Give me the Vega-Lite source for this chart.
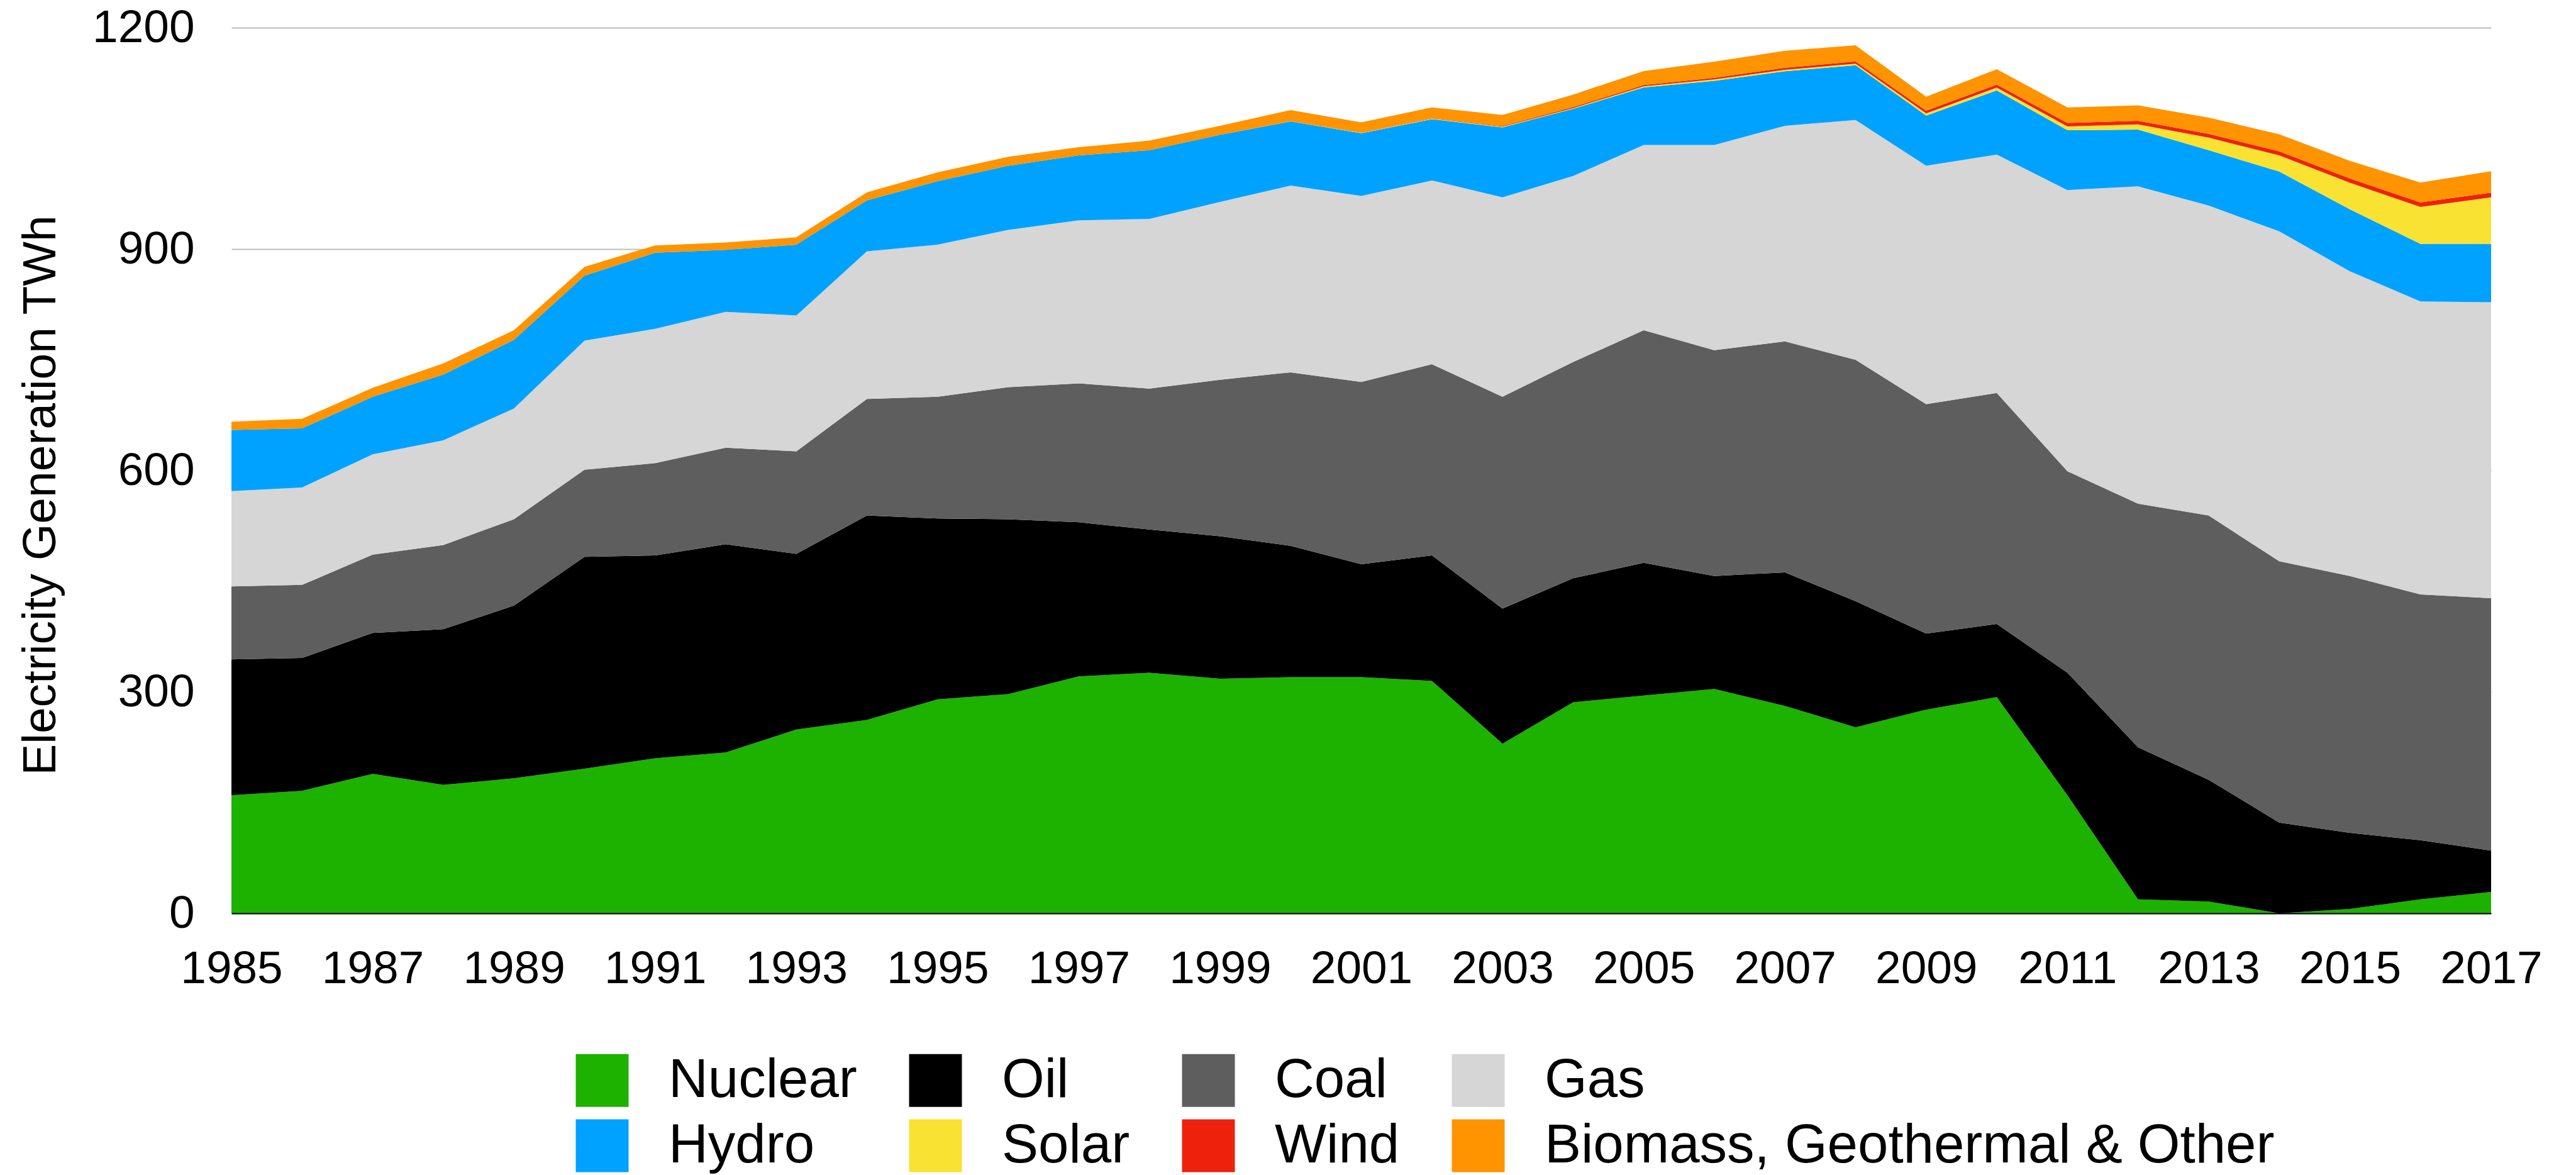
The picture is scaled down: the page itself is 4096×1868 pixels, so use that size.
{
  "$schema": "https://vega.github.io/schema/vega-lite/v6.json",
  "autosize": {"type": "none"},
  "padding": {"left": 368, "top": 44, "right": 135, "bottom": 416},
  "width": 3593,
  "height": 1408,
  "background": "white",
  "config": {
    "font": "Liberation Sans",
    "view": {"stroke": null}
  },
  "datasets": {
    "gen": [
      {"year":1985,"source":"Nuclear","twh":160},{"year":1985,"source":"Oil","twh":184},{"year":1985,"source":"Coal","twh":99},{"year":1985,"source":"Gas","twh":129},{"year":1985,"source":"Hydro","twh":83},{"year":1985,"source":"Solar","twh":0},{"year":1985,"source":"Wind","twh":0},{"year":1985,"source":"Biomass, Geothermal & Other","twh":11},
      {"year":1986,"source":"Nuclear","twh":166},{"year":1986,"source":"Oil","twh":180},{"year":1986,"source":"Coal","twh":99},{"year":1986,"source":"Gas","twh":132},{"year":1986,"source":"Hydro","twh":80},{"year":1986,"source":"Solar","twh":0},{"year":1986,"source":"Wind","twh":0},{"year":1986,"source":"Biomass, Geothermal & Other","twh":13},
      {"year":1987,"source":"Nuclear","twh":189},{"year":1987,"source":"Oil","twh":191},{"year":1987,"source":"Coal","twh":106},{"year":1987,"source":"Gas","twh":136},{"year":1987,"source":"Hydro","twh":78},{"year":1987,"source":"Solar","twh":0},{"year":1987,"source":"Wind","twh":0},{"year":1987,"source":"Biomass, Geothermal & Other","twh":12},
      {"year":1988,"source":"Nuclear","twh":174},{"year":1988,"source":"Oil","twh":211},{"year":1988,"source":"Coal","twh":114},{"year":1988,"source":"Gas","twh":142},{"year":1988,"source":"Hydro","twh":89},{"year":1988,"source":"Solar","twh":0},{"year":1988,"source":"Wind","twh":0},{"year":1988,"source":"Biomass, Geothermal & Other","twh":15},
      {"year":1989,"source":"Nuclear","twh":183},{"year":1989,"source":"Oil","twh":234},{"year":1989,"source":"Coal","twh":117},{"year":1989,"source":"Gas","twh":150},{"year":1989,"source":"Hydro","twh":93},{"year":1989,"source":"Solar","twh":0},{"year":1989,"source":"Wind","twh":0},{"year":1989,"source":"Biomass, Geothermal & Other","twh":13},
      {"year":1990,"source":"Nuclear","twh":196},{"year":1990,"source":"Oil","twh":287},{"year":1990,"source":"Coal","twh":118},{"year":1990,"source":"Gas","twh":175},{"year":1990,"source":"Hydro","twh":88},{"year":1990,"source":"Solar","twh":0},{"year":1990,"source":"Wind","twh":0},{"year":1990,"source":"Biomass, Geothermal & Other","twh":12},
      {"year":1991,"source":"Nuclear","twh":210},{"year":1991,"source":"Oil","twh":275},{"year":1991,"source":"Coal","twh":125},{"year":1991,"source":"Gas","twh":182},{"year":1991,"source":"Hydro","twh":103},{"year":1991,"source":"Solar","twh":0},{"year":1991,"source":"Wind","twh":0},{"year":1991,"source":"Biomass, Geothermal & Other","twh":10},
      {"year":1992,"source":"Nuclear","twh":218},{"year":1992,"source":"Oil","twh":282},{"year":1992,"source":"Coal","twh":131},{"year":1992,"source":"Gas","twh":184},{"year":1992,"source":"Hydro","twh":84},{"year":1992,"source":"Solar","twh":0},{"year":1992,"source":"Wind","twh":0},{"year":1992,"source":"Biomass, Geothermal & Other","twh":10},
      {"year":1993,"source":"Nuclear","twh":249},{"year":1993,"source":"Oil","twh":238},{"year":1993,"source":"Coal","twh":139},{"year":1993,"source":"Gas","twh":184},{"year":1993,"source":"Hydro","twh":96},{"year":1993,"source":"Solar","twh":0},{"year":1993,"source":"Wind","twh":0},{"year":1993,"source":"Biomass, Geothermal & Other","twh":10},
      {"year":1994,"source":"Nuclear","twh":262},{"year":1994,"source":"Oil","twh":277},{"year":1994,"source":"Coal","twh":158},{"year":1994,"source":"Gas","twh":200},{"year":1994,"source":"Hydro","twh":69},{"year":1994,"source":"Solar","twh":0},{"year":1994,"source":"Wind","twh":0},{"year":1994,"source":"Biomass, Geothermal & Other","twh":11},
      {"year":1995,"source":"Nuclear","twh":290},{"year":1995,"source":"Oil","twh":245},{"year":1995,"source":"Coal","twh":165},{"year":1995,"source":"Gas","twh":206},{"year":1995,"source":"Hydro","twh":86},{"year":1995,"source":"Solar","twh":0},{"year":1995,"source":"Wind","twh":0},{"year":1995,"source":"Biomass, Geothermal & Other","twh":12},
      {"year":1996,"source":"Nuclear","twh":297},{"year":1996,"source":"Oil","twh":237},{"year":1996,"source":"Coal","twh":179},{"year":1996,"source":"Gas","twh":213},{"year":1996,"source":"Hydro","twh":87},{"year":1996,"source":"Solar","twh":0},{"year":1996,"source":"Wind","twh":0},{"year":1996,"source":"Biomass, Geothermal & Other","twh":12},
      {"year":1997,"source":"Nuclear","twh":321},{"year":1997,"source":"Oil","twh":209},{"year":1997,"source":"Coal","twh":188},{"year":1997,"source":"Gas","twh":221},{"year":1997,"source":"Hydro","twh":88},{"year":1997,"source":"Solar","twh":0},{"year":1997,"source":"Wind","twh":0},{"year":1997,"source":"Biomass, Geothermal & Other","twh":11},
      {"year":1998,"source":"Nuclear","twh":326},{"year":1998,"source":"Oil","twh":194},{"year":1998,"source":"Coal","twh":191},{"year":1998,"source":"Gas","twh":230},{"year":1998,"source":"Hydro","twh":93},{"year":1998,"source":"Solar","twh":0},{"year":1998,"source":"Wind","twh":0},{"year":1998,"source":"Biomass, Geothermal & Other","twh":13},
      {"year":1999,"source":"Nuclear","twh":318},{"year":1999,"source":"Oil","twh":193},{"year":1999,"source":"Coal","twh":212},{"year":1999,"source":"Gas","twh":241},{"year":1999,"source":"Hydro","twh":91},{"year":1999,"source":"Solar","twh":0},{"year":1999,"source":"Wind","twh":0},{"year":1999,"source":"Biomass, Geothermal & Other","twh":12},
      {"year":2000,"source":"Nuclear","twh":320},{"year":2000,"source":"Oil","twh":178},{"year":2000,"source":"Coal","twh":235},{"year":2000,"source":"Gas","twh":253},{"year":2000,"source":"Hydro","twh":87},{"year":2000,"source":"Solar","twh":0.3},{"year":2000,"source":"Wind","twh":0.1},{"year":2000,"source":"Biomass, Geothermal & Other","twh":15},
      {"year":2001,"source":"Nuclear","twh":320},{"year":2001,"source":"Oil","twh":153},{"year":2001,"source":"Coal","twh":247},{"year":2001,"source":"Gas","twh":252},{"year":2001,"source":"Hydro","twh":85},{"year":2001,"source":"Solar","twh":0.4},{"year":2001,"source":"Wind","twh":0.3},{"year":2001,"source":"Biomass, Geothermal & Other","twh":14},
      {"year":2002,"source":"Nuclear","twh":315},{"year":2002,"source":"Oil","twh":170},{"year":2002,"source":"Coal","twh":259},{"year":2002,"source":"Gas","twh":249},{"year":2002,"source":"Hydro","twh":83},{"year":2002,"source":"Solar","twh":0.6},{"year":2002,"source":"Wind","twh":0.4},{"year":2002,"source":"Biomass, Geothermal & Other","twh":15},
      {"year":2003,"source":"Nuclear","twh":230},{"year":2003,"source":"Oil","twh":183},{"year":2003,"source":"Coal","twh":287},{"year":2003,"source":"Gas","twh":270},{"year":2003,"source":"Hydro","twh":95},{"year":2003,"source":"Solar","twh":0.8},{"year":2003,"source":"Wind","twh":0.9},{"year":2003,"source":"Biomass, Geothermal & Other","twh":15},
      {"year":2004,"source":"Nuclear","twh":286},{"year":2004,"source":"Oil","twh":168},{"year":2004,"source":"Coal","twh":293},{"year":2004,"source":"Gas","twh":252},{"year":2004,"source":"Hydro","twh":91},{"year":2004,"source":"Solar","twh":1.0},{"year":2004,"source":"Wind","twh":1.3},{"year":2004,"source":"Biomass, Geothermal & Other","twh":17},
      {"year":2005,"source":"Nuclear","twh":295},{"year":2005,"source":"Oil","twh":180},{"year":2005,"source":"Coal","twh":315},{"year":2005,"source":"Gas","twh":251},{"year":2005,"source":"Hydro","twh":78},{"year":2005,"source":"Solar","twh":1.5},{"year":2005,"source":"Wind","twh":1.8},{"year":2005,"source":"Biomass, Geothermal & Other","twh":19},
      {"year":2006,"source":"Nuclear","twh":304},{"year":2006,"source":"Oil","twh":153},{"year":2006,"source":"Coal","twh":306},{"year":2006,"source":"Gas","twh":278},{"year":2006,"source":"Hydro","twh":87},{"year":2006,"source":"Solar","twh":1.8},{"year":2006,"source":"Wind","twh":2.2},{"year":2006,"source":"Biomass, Geothermal & Other","twh":22},
      {"year":2007,"source":"Nuclear","twh":281},{"year":2007,"source":"Oil","twh":181},{"year":2007,"source":"Coal","twh":313},{"year":2007,"source":"Gas","twh":292},{"year":2007,"source":"Hydro","twh":74},{"year":2007,"source":"Solar","twh":2.0},{"year":2007,"source":"Wind","twh":2.6},{"year":2007,"source":"Biomass, Geothermal & Other","twh":23},
      {"year":2008,"source":"Nuclear","twh":252},{"year":2008,"source":"Oil","twh":171},{"year":2008,"source":"Coal","twh":327},{"year":2008,"source":"Gas","twh":325},{"year":2008,"source":"Hydro","twh":74},{"year":2008,"source":"Solar","twh":2.3},{"year":2008,"source":"Wind","twh":2.9},{"year":2008,"source":"Biomass, Geothermal & Other","twh":22},
      {"year":2009,"source":"Nuclear","twh":276},{"year":2009,"source":"Oil","twh":103},{"year":2009,"source":"Coal","twh":311},{"year":2009,"source":"Gas","twh":323},{"year":2009,"source":"Hydro","twh":68},{"year":2009,"source":"Solar","twh":2.8},{"year":2009,"source":"Wind","twh":3.6},{"year":2009,"source":"Biomass, Geothermal & Other","twh":19},
      {"year":2010,"source":"Nuclear","twh":293},{"year":2010,"source":"Oil","twh":99},{"year":2010,"source":"Coal","twh":313},{"year":2010,"source":"Gas","twh":323},{"year":2010,"source":"Hydro","twh":87},{"year":2010,"source":"Solar","twh":3.8},{"year":2010,"source":"Wind","twh":4.0},{"year":2010,"source":"Biomass, Geothermal & Other","twh":21},
      {"year":2011,"source":"Nuclear","twh":160},{"year":2011,"source":"Oil","twh":166},{"year":2011,"source":"Coal","twh":273},{"year":2011,"source":"Gas","twh":381},{"year":2011,"source":"Hydro","twh":81},{"year":2011,"source":"Solar","twh":5.2},{"year":2011,"source":"Wind","twh":4.7},{"year":2011,"source":"Biomass, Geothermal & Other","twh":21},
      {"year":2012,"source":"Nuclear","twh":19},{"year":2012,"source":"Oil","twh":206},{"year":2012,"source":"Coal","twh":330},{"year":2012,"source":"Gas","twh":430},{"year":2012,"source":"Hydro","twh":77},{"year":2012,"source":"Solar","twh":7},{"year":2012,"source":"Wind","twh":4.8},{"year":2012,"source":"Biomass, Geothermal & Other","twh":21},
      {"year":2013,"source":"Nuclear","twh":16},{"year":2013,"source":"Oil","twh":165},{"year":2013,"source":"Coal","twh":358},{"year":2013,"source":"Gas","twh":420},{"year":2013,"source":"Hydro","twh":75},{"year":2013,"source":"Solar","twh":17},{"year":2013,"source":"Wind","twh":5.2},{"year":2013,"source":"Biomass, Geothermal & Other","twh":22},
      {"year":2014,"source":"Nuclear","twh":0},{"year":2014,"source":"Oil","twh":123},{"year":2014,"source":"Coal","twh":354},{"year":2014,"source":"Gas","twh":447},{"year":2014,"source":"Hydro","twh":81},{"year":2014,"source":"Solar","twh":22},{"year":2014,"source":"Wind","twh":5.5},{"year":2014,"source":"Biomass, Geothermal & Other","twh":23},
      {"year":2015,"source":"Nuclear","twh":6},{"year":2015,"source":"Oil","twh":103},{"year":2015,"source":"Coal","twh":348},{"year":2015,"source":"Gas","twh":413},{"year":2015,"source":"Hydro","twh":84},{"year":2015,"source":"Solar","twh":36},{"year":2015,"source":"Wind","twh":5.6},{"year":2015,"source":"Biomass, Geothermal & Other","twh":24},
      {"year":2016,"source":"Nuclear","twh":19},{"year":2016,"source":"Oil","twh":80},{"year":2016,"source":"Coal","twh":333},{"year":2016,"source":"Gas","twh":397},{"year":2016,"source":"Hydro","twh":78},{"year":2016,"source":"Solar","twh":50},{"year":2016,"source":"Wind","twh":6.2},{"year":2016,"source":"Biomass, Geothermal & Other","twh":27},
      {"year":2017,"source":"Nuclear","twh":29},{"year":2017,"source":"Oil","twh":56},{"year":2017,"source":"Coal","twh":342},{"year":2017,"source":"Gas","twh":401},{"year":2017,"source":"Hydro","twh":79},{"year":2017,"source":"Solar","twh":63},{"year":2017,"source":"Wind","twh":6.5},{"year":2017,"source":"Biomass, Geothermal & Other","twh":29}
    ]
  },
  "data": {"name": "gen"},
  "transform": [
    {"calculate": "indexof(['Nuclear','Oil','Coal','Gas','Hydro','Solar','Wind','Biomass, Geothermal & Other'], datum.source)", "as": "stackRank"}
  ],
  "mark": {"type": "area", "interpolate": "linear", "strokeWidth": 0},
  "encoding": {
    "x": {
      "field": "year",
      "type": "quantitative",
      "scale": {"domain": [1985, 2017], "nice": false, "zero": false},
      "axis": {
        "title": null,
        "values": [1985,1987,1989,1991,1993,1995,1997,1999,2001,2003,2005,2007,2009,2011,2013,2015,2017],
        "format": "d",
        "grid": false,
        "ticks": false,
        "tickSize": 0,
        "domain": true,
        "domainColor": "#000000",
        "domainWidth": 2,
        "labelFont": "Liberation Sans",
        "labelFontSize": 73,
        "labelColor": "#000000",
        "labelPadding": 52,
        "labelFlush": false,
        "labelOverlap": false,
        "zindex": 1
      }
    },
    "y": {
      "field": "twh",
      "type": "quantitative",
      "stack": "zero",
      "scale": {"domain": [0, 1200], "nice": false},
      "axis": {
        "title": "Electricity Generation TWh",
        "values": [0, 300, 600, 900, 1200],
        "format": "d",
        "grid": true,
        "gridColor": "#bdbdbd",
        "gridWidth": 2,
        "ticks": false,
        "tickSize": 0,
        "domain": false,
        "labelFont": "Liberation Sans",
        "labelFontSize": 73,
        "labelColor": "#000000",
        "labelPadding": 59,
        "labelFlush": false,
        "labelOverlap": false,
        "titleFont": "Liberation Sans",
        "titleFontSize": 75,
        "titleFontWeight": "normal",
        "titleColor": "#000000",
        "titleAngle": 270,
        "titleAlign": "center",
        "titleBaseline": "alphabetic",
        "titleX": -281,
        "titleY": 743
      }
    },
    "order": {"field": "stackRank", "type": "quantitative", "sort": "ascending"},
    "color": {
      "field": "source",
      "type": "nominal",
      "sort": ["Nuclear", "Oil", "Coal", "Gas", "Hydro", "Solar", "Wind", "Biomass, Geothermal & Other"],
      "scale": {
        "domain": ["Nuclear", "Oil", "Coal", "Gas", "Hydro", "Solar", "Wind", "Biomass, Geothermal & Other"],
        "range": ["#1db100", "#000000", "#5e5e5e", "#d6d6d6", "#00a2ff", "#f9e231", "#ee220c", "#ff9300"]
      },
      "legend": {
        "title": null,
        "orient": "none",
        "legendX": 546,
        "legendY": 1630,
        "direction": "horizontal",
        "columns": 4,
        "padding": 0,
        "symbolType": "square",
        "symbolSize": 7056,
        "symbolStrokeWidth": 0,
        "symbolOpacity": 1,
        "labelFont": "Liberation Sans",
        "labelFontSize": 87,
        "labelColor": "#000000",
        "labelOffset": 62,
        "labelLimit": 2000,
        "columnPadding": 81,
        "rowPadding": 16
      }
    }
  }
}
